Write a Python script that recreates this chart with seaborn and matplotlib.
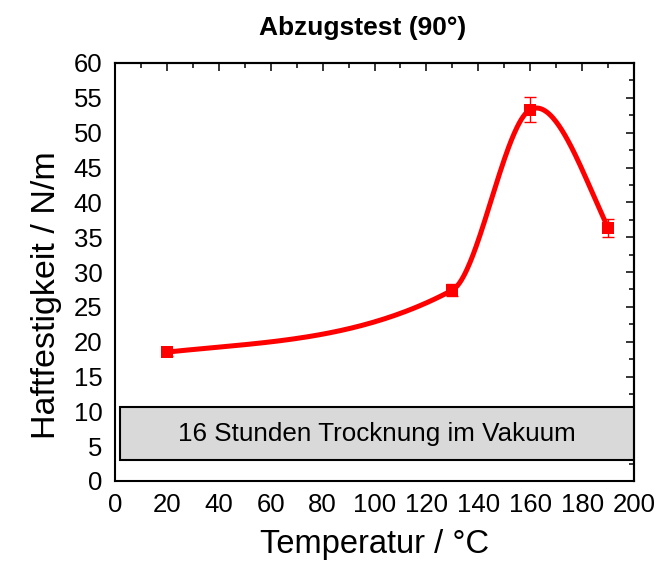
import numpy as np
import pandas as pd
import matplotlib
matplotlib.use("Agg")
import matplotlib.pyplot as plt
import seaborn as sns
from matplotlib.patches import Rectangle
from matplotlib.ticker import MultipleLocator

# ---- data ----
temperature = [20, 130, 160, 190]
adhesion = [18.5, 27.4, 53.3, 36.3]
adhesion_err = [0.5, 0.9, 1.8, 1.3]
curve_slopes = [0.04, 0.2, 0.2, -0.8]

title = "Abzugstest (90°)"
xlabel = "Temperatur / °C"
ylabel = "Haftfestigkeit / N/m"
box_text = "16 Stunden Trocknung im Vakuum"
x_ticks = list(range(0, 201, 20))
y_ticks = list(range(0, 61, 5))

sns.set_theme(style="white")
plt.rcParams["font.family"] = ["Liberation Sans", "DejaVu Sans"]
plt.rcParams["text.color"] = "black"
plt.rcParams["axes.labelcolor"] = "black"

# smooth curve through the points (cubic Hermite)
xs, ys = [], []
for i in range(len(temperature) - 1):
    x0, x1 = temperature[i], temperature[i + 1]
    y0, y1 = adhesion[i], adhesion[i + 1]
    m0, m1 = curve_slopes[i], curve_slopes[i + 1]
    h = x1 - x0
    t = np.linspace(0, 1, 80)
    h00 = 2 * t**3 - 3 * t**2 + 1
    h10 = t**3 - 2 * t**2 + t
    h01 = -2 * t**3 + 3 * t**2
    h11 = t**3 - t**2
    xs.extend(x0 + t * h)
    ys.extend(h00 * y0 + h10 * h * m0 + h01 * y1 + h11 * h * m1)
curve = pd.DataFrame({"T": xs, "F": ys})
points = pd.DataFrame({"T": temperature, "F": adhesion, "err": adhesion_err})

fig = plt.figure(figsize=(6.66, 5.67), dpi=100)
ax = fig.add_axes([115 / 666, 1 - 481 / 567, (634 - 115) / 666, (481 - 63) / 567])

red = "#ff0000"
sns.lineplot(data=curve, x="T", y="F", ax=ax, color=red, linewidth=3.6, sort=False, zorder=3)
ax.errorbar(points["T"], points["F"], yerr=points["err"], fmt="none",
            ecolor=red, elinewidth=1.0, capsize=4.5, capthick=1.0, zorder=4)
sns.scatterplot(data=points, x="T", y="F", ax=ax, marker="s", s=65, color=red,
                edgecolor=red, linewidth=0, zorder=5)

# info box
ax.add_patch(Rectangle((1.9, 3.0), 198.1, 7.6, facecolor="#d9d9d9",
                       edgecolor="black", linewidth=1.5, zorder=2))
ax.text(101, 6.8, box_text, ha="center", va="center", fontsize=18.7, color="black", zorder=6)

ax.set_xlim(0, 200)
ax.set_ylim(0, 60)
ax.set_xticks(x_ticks)
ax.set_yticks(y_ticks)
ax.xaxis.set_minor_locator(MultipleLocator(10))
ax.yaxis.set_minor_locator(MultipleLocator(2.5))
ax.tick_params(axis="both", which="major", direction="out", length=6, width=1.3,
               labelsize=18.5, colors="black", pad=3)
ax.tick_params(axis="both", which="minor", direction="out", length=3.5, width=1.3)
ax.tick_params(top=False, right=False, which="both")

# mirrored inward ticks on top/right
axt = ax.secondary_xaxis("top")
axt.set_xticks(x_ticks)
axt.xaxis.set_minor_locator(MultipleLocator(10))
axt.tick_params(which="major", direction="in", length=6, width=1.3, labeltop=False)
axt.tick_params(which="minor", direction="in", length=3.5, width=1.3)
axt.set_xticklabels([])
axr = ax.secondary_yaxis("right")
axr.set_yticks(y_ticks)
axr.yaxis.set_minor_locator(MultipleLocator(2.5))
axr.tick_params(which="major", direction="in", length=6, width=1.3)
axr.tick_params(which="minor", direction="in", length=3.5, width=1.3)
axr.set_yticklabels([])
for a in (axt, axr):
    for s in a.spines.values():
        s.set_linewidth(1.5)
        s.set_color("black")

for s in ax.spines.values():
    s.set_visible(True)
    s.set_linewidth(1.5)
    s.set_color("black")

ax.set_xlabel(xlabel, fontsize=23.5, labelpad=8)
ax.set_ylabel(ylabel, fontsize=24.5, labelpad=6)
ax.yaxis.set_label_coords(-0.103, 0.445)
fig.text(363 / 666, 1 - 28 / 567, title, ha="center", va="center", fontsize=19,
         fontweight="bold", color="black")

fig.savefig("out.png", dpi=100)
